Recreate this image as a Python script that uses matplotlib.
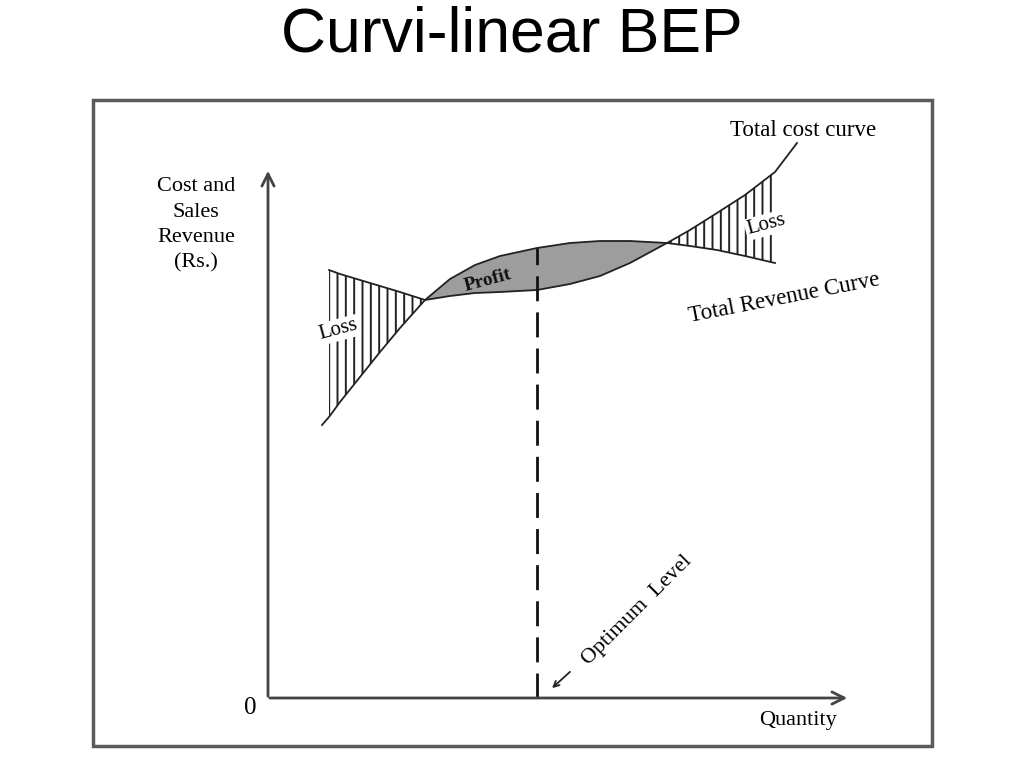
import numpy as np
import matplotlib
matplotlib.use("Agg")
import matplotlib.pyplot as plt
from matplotlib.patches import Rectangle

# Datos (cantidad, coste total, ingreso total)
quantity = np.array([54, 61, 72, 92, 112, 132, 157, 182, 207, 232, 269,
                     302, 332, 362, 399, 422, 449, 477, 507, 529])
total_cost = np.array([273, 281, 296, 321, 346, 370, 398, 402, 405, 406, 408,
                       414, 422, 435, 455, 468, 485, 503, 526, 555])
total_revenue = np.array([np.nan, 428, 424, 418, 412, 406, 398, 419, 433, 442, 450,
                          455, 457, 457, 455, 452, 448, 442, 435, np.nan])
bep_low, optimum, bep_high = 157, 269, 399
x_max, y_max = 582, 530

plt.rcParams['font.family'] = ['Liberation Serif', 'DejaVu Serif']
fig = plt.figure(figsize=(10.24, 7.68), dpi=100)
ax = fig.add_axes([0, 0, 1, 1])
ax.set_xlim(-268, 756)
ax.set_ylim(-70, 698)
ax.axis("off")

# Titulo
fig.text(0.5, 0.955, "Curvi-linear BEP", ha="center", va="center",
         fontsize=45, family="Liberation Sans")

# Marco
ax.add_patch(Rectangle((-175, -48), 839, 646, fill=False, ec="#5a5a5a", lw=2.5))

# Ejes con flechas
ax.annotate("", xy=(0, y_max), xytext=(0, -1),
            arrowprops=dict(arrowstyle="->", color="#444444", lw=2, mutation_scale=22))
ax.annotate("", xy=(x_max, 0), xytext=(-1, 0),
            arrowprops=dict(arrowstyle="->", color="#444444", lw=2, mutation_scale=22))

# Zonas
ok = ~np.isnan(total_revenue)
q, c, r = quantity[ok], total_cost[ok], total_revenue[ok]
left = q <= bep_low
mid = (q >= bep_low) & (q <= bep_high)
right = q >= bep_high
plt.rcParams['hatch.linewidth'] = 1.4
ax.fill_between(q[left], c[left], r[left], facecolor="none", edgecolor="#222222",
                hatch="||", lw=0)
ax.fill_between(q[right], c[right], r[right], facecolor="none", edgecolor="#222222",
                hatch="||", lw=0)
ax.fill_between(q[mid], c[mid], r[mid], facecolor="#9d9d9d", edgecolor="none")

# Curvas
ax.plot(quantity, total_cost, color="#222222", lw=1.3)
ax.plot(quantity, total_revenue, color="#222222", lw=1.3)

# Nivel optimo
top = total_revenue[quantity == optimum][0]
ax.plot([optimum, optimum], [0, top], color="#111111", lw=2, dashes=(9, 4))

# Textos
ax.text(-72, 473, "Cost and\nSales\nRevenue\n(Rs.)", ha="center", va="center",
        fontsize=16, linespacing=1.45)
ax.text(-18, -10, "0", ha="center", va="center", fontsize=18)
ax.text(530, -22, "Quantity", ha="center", va="center", fontsize=16)
ax.text(535, 568, "Total cost curve", ha="center", va="center", fontsize=16.5)
ax.text(516, 400, "Total Revenue Curve", ha="center", va="center", fontsize=16.5,
        rotation=11)
ax.text(70, 368, "Loss", ha="center", va="center", fontsize=15, rotation=15,
        bbox=dict(fc="white", ec="none", pad=1))
ax.text(498, 473, "Loss", ha="center", va="center", fontsize=15, rotation=15,
        bbox=dict(fc="white", ec="none", pad=1))
ax.text(220, 418, "Profit", ha="center", va="center", fontsize=14, rotation=15,
        fontweight="bold", color="#111111")
ax.text(369, 88, "Optimum  Level", ha="center", va="center", fontsize=16,
        rotation=45)
ax.annotate("", xy=(282, 8), xytext=(304, 28),
            arrowprops=dict(arrowstyle="->", color="#222222", lw=1.3))

fig.savefig("out.png", dpi=100)
